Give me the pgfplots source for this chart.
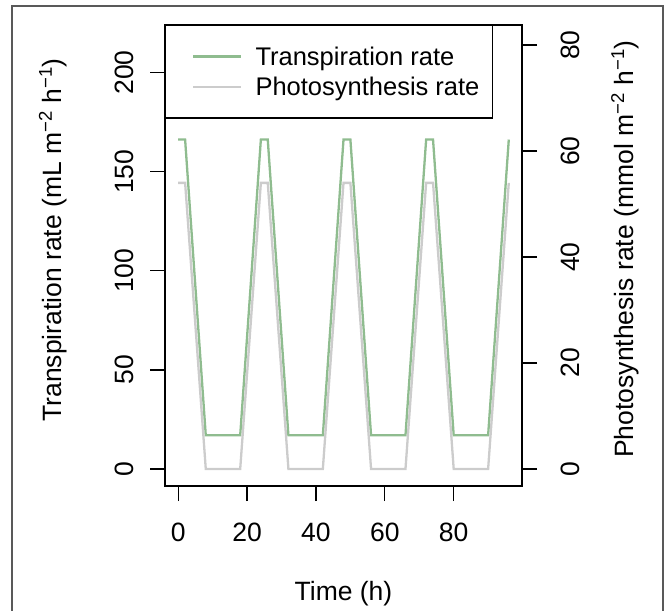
\documentclass[border=0pt]{standalone}
\usepackage{fontspec}
\setmainfont{Liberation Sans}
\usepackage{pgfplots}
\pgfplotsset{compat=1.18}
\definecolor{tgreen}{HTML}{8FBC8F}
\definecolor{pgray}{HTML}{CCCCCC}
\begin{document}
\begin{tikzpicture}[font=\fontsize{26.5}{31}\selectfont]
\useasboundingbox (0,0) rectangle (668pt,610pt);
\draw[line width=1.5pt, color=black!65] (12pt,-20pt) rectangle (663pt,604pt);
\begin{axis}[
  at={(165pt,124pt)}, anchor=south west, scale only axis,
  width=357pt, height=461pt,
  xmin=-3.84, xmax=99.84, ymin=-8.6, ymax=224,
  xtick={0,20,40,60,80}, ytick={0,50,100,150,200},
  tick pos=left, tick align=outside, major tick length=15pt,
  tick style={black, line width=1.3pt},
  axis line style={black, line width=1.3pt},
  /pgf/number format/assume math mode=true,
  xticklabel style={anchor=north, inner sep=0pt, yshift=-22pt},
  yticklabel style={xshift=-16pt, rotate=90, anchor=south, inner sep=0pt},
  xlabel={Time (h)},
  xlabel style={at={(axis description cs:0.5,0)}, anchor=center, yshift=-108pt},
  ylabel={Transpiration rate (mL m\textsuperscript{−2} h\textsuperscript{−1})},
  ylabel style={at={(axis description cs:-0.2913,0.5336)}, anchor=base},
  legend cell align=left,
  legend image code/.code={\path[draw=none,fill=none] (0pt,-3pt) -- (0pt,3pt); \draw[#1] (15.7pt,0pt) -- (63.7pt,0pt);},
  legend style={at={(axis description cs:0,1)}, anchor=north west, draw=black,
    line width=1.3pt, fill=white, inner xsep=12pt, inner ysep=20pt, row sep=8.5pt,
    nodes={inner sep=1pt, font=\fontsize{25.5}{30}\selectfont},
    /tikz/every odd column/.append style={column sep=12pt}},
]
\addplot[tgreen, line width=2.3pt] coordinates {
(0,166.2) (2,166.2) (8,17) (18,17) (24,166.2) (26,166.2) (32,17) (42,17)
(48,166.2) (50,166.2) (56,17) (66,17) (72,166.2) (74,166.2) (80,17) (90,17) (96,166.2)};
\addlegendentry{Transpiration rate}
\addlegendimage{pgray, line width=2.3pt}
\addlegendentry{Photosynthesis rate}
\end{axis}
\begin{axis}[
  at={(165pt,124pt)}, anchor=south west, scale only axis,
  width=357pt, height=461pt,
  xmin=-3.84, xmax=99.84, ymin=-3.22, ymax=83.8,
  axis x line=none, axis y line*=right,
  ytick={0,20,40,60,80},
  tick align=outside, major tick length=15pt,
  tick style={black, line width=1.3pt},
  axis line style={black, line width=1.3pt},
  /pgf/number format/assume math mode=true,
  yticklabel style={xshift=24pt, rotate=90, anchor=north, inner sep=0pt},
  ylabel={Photosynthesis rate (mmol m\textsuperscript{−2} h\textsuperscript{−1})},
  ylabel style={at={(axis description cs:1.311,0.514)}, anchor=base},
]
\addplot[pgray, line width=2.3pt] coordinates {
(0,54) (2,54) (8,0) (18,0) (24,54) (26,54) (32,0) (42,0)
(48,54) (50,54) (56,0) (66,0) (72,54) (74,54) (80,0) (90,0) (96,54)};
\end{axis}
\end{tikzpicture}
\end{document}
